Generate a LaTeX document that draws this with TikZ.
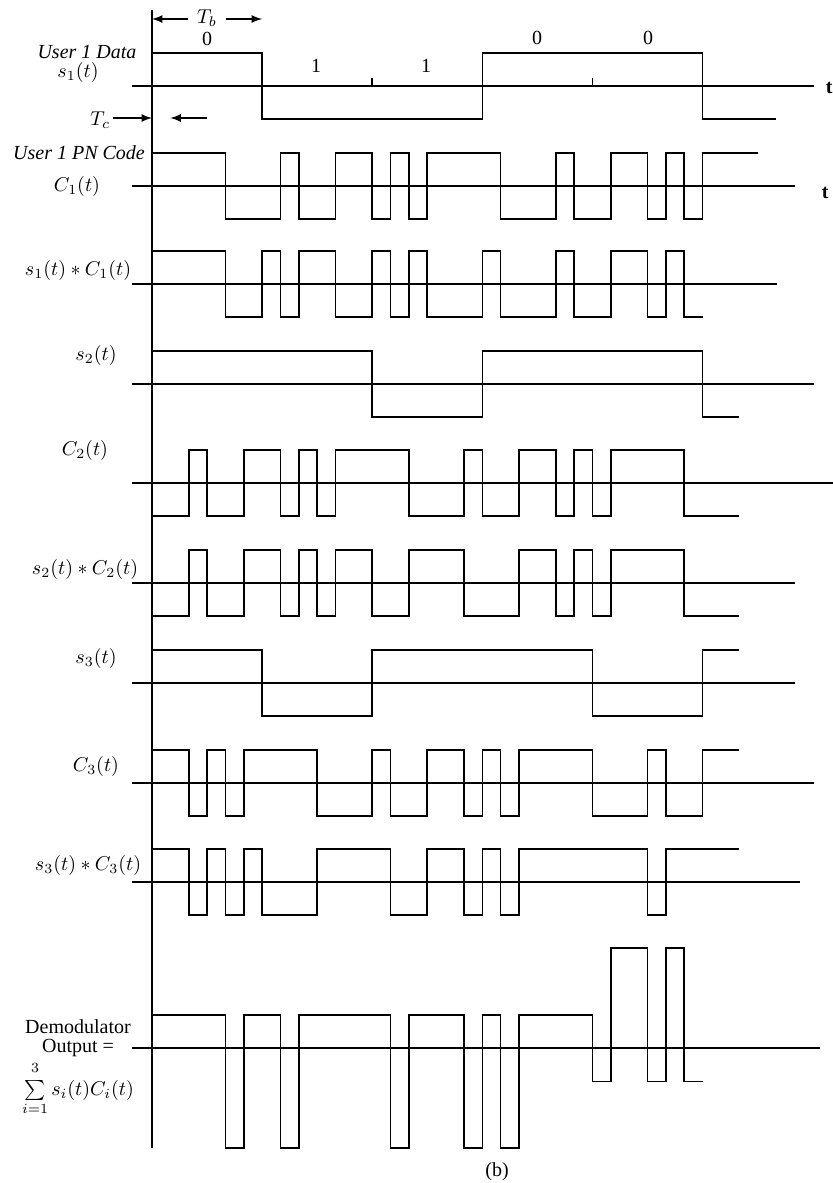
\documentclass[tikz,border=0pt]{standalone}
\usepackage{amsmath}
\usepackage{fontspec}
\setmainfont{Liberation Serif}
\usetikzlibrary{arrows}

% one square wave: axis y, amplitude, list of level/end-chip runs
\newcommand{\chipwave}[3]{%
  \draw[wave] (152,#1) \foreach \lv/\ce [remember=\ce as \cs (initially 0)] in {#3}
    { -- ({152+\cs*18.35},{#1-#2*(\lv)}) -- ({152+\ce*18.35},{#1-#2*(\lv)}) };
}

\begin{document}
\begin{tikzpicture}[x=0.5pt,y=-0.5pt,line width=0.8pt,
    wave/.style={line join=miter},
    lbl/.style={inner sep=1pt},
    tlbl/.style={anchor=west, inner sep=1pt, font=\bfseries}]
    \useasboundingbox (0,0) rectangle (833,1183);

    % time axis
    \draw (152,10) -- (152,1148);

    % bit and chip durations
    \node[inner xsep=4pt, inner ysep=0pt] (tb) at (207,18) {$T_b$};
    \coordinate (tbl) at (152,19);
    \coordinate (tbr) at (262.1,19);
    \draw[-latex] (tb.west |- tbl) -- (tbl);
    \draw[-latex] (tb.east |- tbr) -- (tbr);
    \node[anchor=east, inner sep=1pt] (tc) at (113,120) {$T_c$};
    \coordinate (tca) at (152,118);
    \coordinate (tcb) at (207,118);
    \coordinate (tcc) at (170.35,118);
    \draw[-latex] (tc.east |- tca) -- (tca);
    \draw[-latex] (tcb) -- (tcc);

    % user 1 data
    \node[lbl, font=\itshape] (data1) at (87,52) {User 1 Data};
    \node[lbl] (s1) at (78,72) {$s_1(t)$};
    \node[lbl] (bit1) at (207,39) {0};
    \node[lbl] (bit2) at (316,66) {1};
    \node[lbl] (bit3) at (426,66) {1};
    \node[lbl] (bit4) at (537,38) {0};
    \node[lbl] (bit5) at (648,38) {0};
    \draw (132,86) -- (814,86);
    \draw (372.2,86) -- (372.2,78);
    \draw (592.4,86) -- (592.4,78);
    \node[tlbl] (t1) at (823,88) {t};
    \chipwave{86}{33}{1/6, -1/18, 1/30, -1/34}

    % user 1 PN code
    \node[lbl, font=\itshape] (pn1) at (79,153) {User 1 PN Code};
    \node[lbl] (c1) at (77,186) {$C_1(t)$};
    \draw (132,186) -- (795,186);
    \node[tlbl] (t2) at (819,193) {t};
    \chipwave{186}{33}{1/4, -1/7, 1/8, -1/10, 1/12, -1/13, 1/14, -1/15, 1/19, -1/22, 1/23, -1/25, 1/27, -1/28, 1/29, -1/30, 1/33}

    % s1 * C1
    \node[lbl] (sc1) at (78,270) {$s_1(t)*C_1(t)$};
    \draw (132,284) -- (777,284);
    \chipwave{284}{33}{1/4, -1/6, 1/7, -1/8, 1/10, -1/12, 1/13, -1/14, 1/15, -1/18, 1/19, -1/22, 1/23, -1/25, 1/27, -1/28, 1/29, -1/30}

    % user 2
    \node[lbl] (s2) at (96,355) {$s_2(t)$};
    \draw (132,384) -- (814,384);
    \chipwave{384}{33}{1/12, -1/18, 1/30, -1/32}

    \node[lbl] (c2) at (85,450) {$C_2(t)$};
    \draw (132,483) -- (833,483);
    \chipwave{483}{33}{-1/2, 1/3, -1/5, 1/7, -1/8, 1/9, -1/10, 1/14, -1/17, 1/18, -1/20, 1/22, -1/23, 1/24, -1/25, 1/29, -1/32}

    \node[lbl] (sc2) at (85,569) {$s_2(t)*C_2(t)$};
    \draw (132,583) -- (795,583);
    \chipwave{583}{33}{-1/2, 1/3, -1/5, 1/7, -1/8, 1/9, -1/10, 1/12, -1/14, 1/17, -1/20, 1/22, -1/23, 1/24, -1/25, 1/29, -1/32}

    % user 3
    \node[lbl] (s3) at (96,658) {$s_3(t)$};
    \draw (132,683) -- (795,683);
    \chipwave{683}{33}{1/6, -1/12, 1/24, -1/30, 1/32}

    \node[lbl] (c3) at (96,766) {$C_3(t)$};
    \draw (132,783) -- (814,783);
    \chipwave{783}{33}{1/2, -1/3, 1/4, -1/5, 1/9, -1/12, 1/13, -1/15, 1/17, -1/18, 1/19, -1/20, 1/24, -1/27, 1/28, -1/30, 1/32}

    \node[lbl] (sc3) at (88,865) {$s_3(t)*C_3(t)$};
    \draw (132,882) -- (800,882);
    \chipwave{882}{33}{1/2, -1/3, 1/4, -1/5, 1/6, -1/9, 1/13, -1/15, 1/17, -1/18, 1/19, -1/20, 1/27, -1/28, 1/32}

    % demodulator output
    \node[lbl] (dem) at (78,1027) {Demodulator};
    \node[lbl] (out) at (78,1048) {Output =};
    \node[anchor=north, inner sep=0pt] (sum) at (78,1061)
      {$\sum\limits_{i=1}^{\raisebox{2pt}{$\scriptstyle 3$}} s_i(t)C_i(t)$};
    \draw (132,1048) -- (820,1048);
    \chipwave{1048}{33.3}{1/4, -3/5, 1/7, -3/8, 1/13, -3/14, 1/17, -3/18, 1/19, -3/20, 1/24, -1/25, 3/27, -1/28, 3/29, -1/30}

    \node (cap) at (497,1172) {(b)};
\end{tikzpicture}
\end{document}
